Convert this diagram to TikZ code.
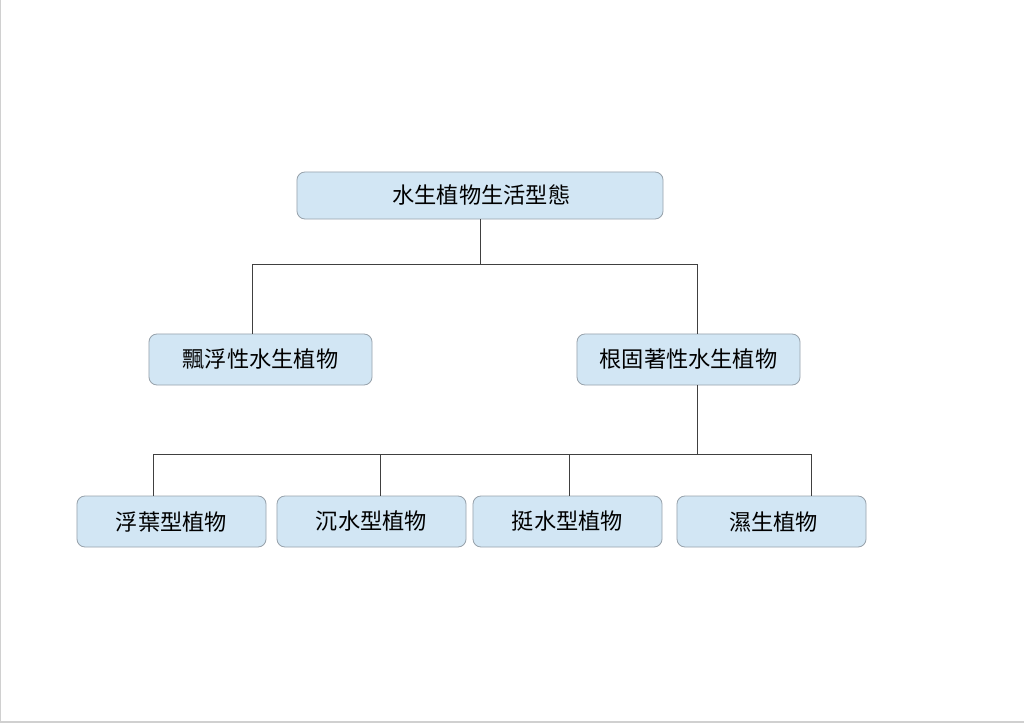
\documentclass[tikz,border=0pt]{standalone}
\usepackage{fontspec}
\newfontfamily\cjk{Noto Sans CJK TC}
\definecolor{boxfill}{HTML}{D2E6F4}
\definecolor{boxline}{HTML}{98A3AC}
\definecolor{conn}{HTML}{404040}
\definecolor{pageedge}{HTML}{D0D0D0}
\begin{document}
\begin{tikzpicture}[x=0.025cm,y=-0.025cm,
  box/.style={draw=boxline, fill=boxfill, rounded corners=0.2cm, line width=0.6pt,
    inner sep=0pt, font=\cjk\fontsize{15.8}{18}\selectfont, text=black},
  rootbox/.style={box, minimum width=9.15cm, minimum height=1.175cm},
  midbox/.style={box, minimum width=5.575cm, minimum height=1.275cm},
  leafbox/.style={box, minimum width=4.725cm, minimum height=1.275cm},
  link/.style={draw=conn, line width=0.7pt}]
\useasboundingbox (0,0) rectangle (1024,723);
\fill[white] (0,0) rectangle (1024,723);
\draw[pageedge, line width=1.2pt] (0.5,0) -- (0.5,722) -- (1024,722);

\node[rootbox] (root) at (480,195.5) {\raisebox{-1pt}{\hspace{2pt}水生植物生活型態}};
\node[midbox] (float) at (260.5,359.5) {\raisebox{-1pt}{飄浮性水生植物}};
\node[midbox] (rooted) at (688.5,359.5) {\raisebox{-1pt}{根固著性水生植物}};
\node[leafbox] (leaf1) at (171.5,521.5) {浮葉型植物};
\node[leafbox] (leaf2) at (371.5,521.5) {沉水型植物};
\node[leafbox] (leaf3) at (567.5,521.5) {挺水型植物};
\node[leafbox] (leaf4) at (771.5,521.5) {\raisebox{-2pt}{\hspace{3pt}濕生植物}};

\coordinate (j1) at (480,264);
\coordinate (h1l) at (252,264);
\coordinate (h1r) at (697,264);
\draw[link] (root.south) -- (j1);
\draw[link] (h1l) -- (h1r);
\draw[link] (h1l) -- (h1l |- float.north);
\draw[link] (h1r) -- (h1r |- rooted.north);

\coordinate (r2) at (697,385);
\coordinate (j2) at (697,454);
\coordinate (h2l) at (153,454);
\coordinate (h2b) at (380,454);
\coordinate (h2c) at (569,454);
\coordinate (h2r) at (811,454);
\draw[link] (r2) -- (j2);
\draw[link] (h2l) -- (h2r);
\draw[link] (h2l) -- (h2l |- leaf1.north);
\draw[link] (h2b) -- (h2b |- leaf2.north);
\draw[link] (h2c) -- (h2c |- leaf3.north);
\draw[link] (h2r) -- (h2r |- leaf4.north);
\end{tikzpicture}
\end{document}
